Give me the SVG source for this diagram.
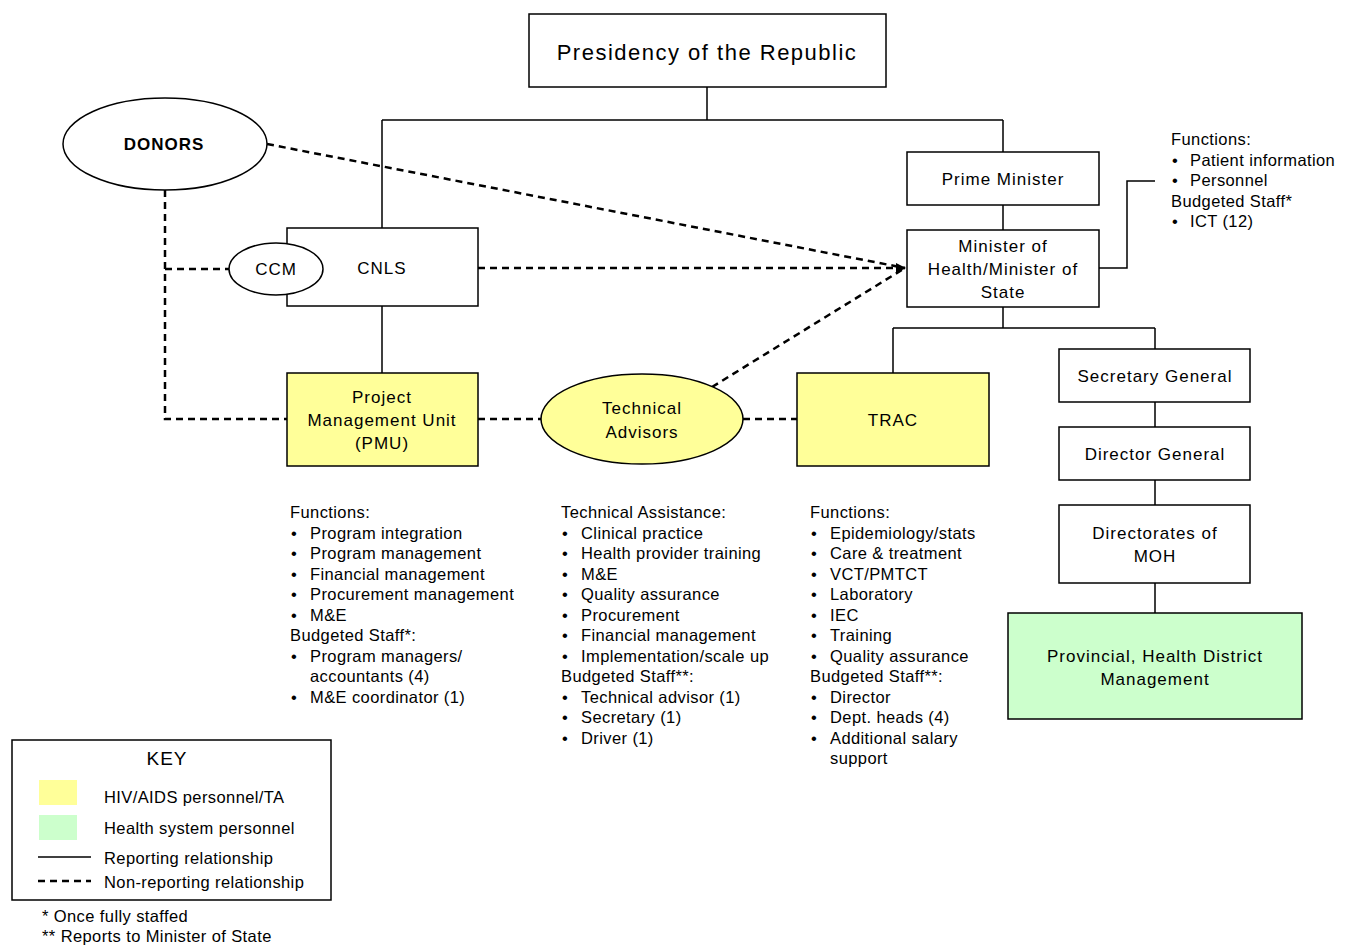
<svg xmlns="http://www.w3.org/2000/svg" width="1348" height="945" viewBox="0 0 1348 945">
<defs>
<style>
.box{fill:#fff;stroke:#000;stroke-width:1.5}
.yel{fill:#ffff99;stroke:#000;stroke-width:1.5}
.grn{fill:#ccffcc;stroke:#000;stroke-width:1.5}
.ln{fill:none;stroke:#000;stroke-width:1.5}
.dash{fill:none;stroke:#000;stroke-width:2.5;stroke-dasharray:7,5}
.lbl{font-family:"Liberation Sans",Arial,sans-serif;font-size:17px;letter-spacing:1px;text-anchor:middle;fill:#000}
.lst{font-family:"Liberation Sans",Arial,sans-serif;font-size:16.5px;letter-spacing:0.4px;fill:#000}
</style>
<marker id="arr" viewBox="0 0 10 10" refX="9" refY="5" markerWidth="4" markerHeight="4" orient="auto">
<path d="M0,0 L10,5 L0,10 z" fill="#000"/>
</marker>
</defs>
<rect width="1348" height="945" fill="#fff"/>

<g id="connectors">
<path class="ln" d="M707,87 V120 M382,120 H1003 M382,120 V228 M1003,120 V152 M1003,205 V230 M382,306 V373"/>
<path class="ln" d="M1099,268 H1127 V181 H1155"/>
<path class="ln" d="M1003,307 V328 M893,328 H1155 M893,328 V373 M1155,328 V349 M1155,402 V427 M1155,480 V505 M1155,583 V613"/>
<path class="dash" d="M165,190 V419 H287 M165,269 H229"/>
<path class="dash" d="M267,144 L905,268"/>
<path class="dash" d="M478,268 L905,268" marker-end="url(#arr)"/>
<path class="dash" d="M712,387 L905,268"/>
<path class="dash" d="M478,419 H541 M743,419 H797"/>
</g>

<g id="presidency">
<rect class="box" x="529" y="14" width="357" height="73"/>
<text class="lbl" x="707" y="60" style="font-size:22px;letter-spacing:1.5px">Presidency of the Republic</text>
</g>

<g id="donors">
<ellipse class="box" cx="165" cy="144" rx="102" ry="46"/>
<text class="lbl" x="164" y="150" style="font-weight:bold">DONORS</text>
</g>

<g id="cnls">
<rect class="box" x="287" y="228" width="191" height="78"/>
<text class="lbl" x="382" y="274">CNLS</text>
</g>

<g id="ccm">
<ellipse class="box" cx="276" cy="269" rx="47" ry="26"/>
<text class="lbl" x="276" y="275">CCM</text>
</g>

<g id="prime-minister">
<rect class="box" x="907" y="152" width="192" height="53"/>
<text class="lbl" x="1003" y="185">Prime Minister</text>
</g>

<g id="minister-health">
<rect class="box" x="907" y="230" width="192" height="77"/>
<text class="lbl" x="1003" y="252">Minister of</text>
<text class="lbl" x="1003" y="275">Health/Minister of</text>
<text class="lbl" x="1003" y="298">State</text>
</g>

<g id="minister-functions" class="lst">
<text x="1171" y="145">Functions:</text>
<text y="166"><tspan x="1172">•</tspan><tspan x="1190">Patient information</tspan></text>
<text y="186"><tspan x="1172">•</tspan><tspan x="1190">Personnel</tspan></text>
<text x="1171" y="207">Budgeted Staff*</text>
<text y="227"><tspan x="1172">•</tspan><tspan x="1190">ICT (12)</tspan></text>
</g>

<g id="pmu">
<rect class="yel" x="287" y="373" width="191" height="93"/>
<text class="lbl" x="382" y="403">Project</text>
<text class="lbl" x="382" y="426">Management Unit</text>
<text class="lbl" x="382" y="449">(PMU)</text>
</g>

<g id="technical-advisors">
<ellipse class="yel" cx="642" cy="419" rx="101" ry="45"/>
<text class="lbl" x="642" y="414">Technical</text>
<text class="lbl" x="642" y="438">Advisors</text>
</g>

<g id="trac">
<rect class="yel" x="797" y="373" width="192" height="93"/>
<text class="lbl" x="893" y="426">TRAC</text>
</g>

<g id="secretary-general">
<rect class="box" x="1059" y="349" width="191" height="53"/>
<text class="lbl" x="1155" y="382">Secretary General</text>
</g>

<g id="director-general">
<rect class="box" x="1059" y="427" width="191" height="53"/>
<text class="lbl" x="1155" y="460">Director General</text>
</g>

<g id="directorates">
<rect class="box" x="1059" y="505" width="191" height="78"/>
<text class="lbl" x="1155" y="539">Directorates of</text>
<text class="lbl" x="1155" y="562">MOH</text>
</g>

<g id="provincial">
<rect class="grn" x="1008" y="613" width="294" height="106"/>
<text class="lbl" x="1155" y="662">Provincial, Health District</text>
<text class="lbl" x="1155" y="685">Management</text>
</g>

<g id="pmu-functions" class="lst">
<text x="290" y="518">Functions:</text>
<text y="539"><tspan x="291">•</tspan><tspan x="310">Program integration</tspan></text>
<text y="559"><tspan x="291">•</tspan><tspan x="310">Program management</tspan></text>
<text y="580"><tspan x="291">•</tspan><tspan x="310">Financial management</tspan></text>
<text y="600"><tspan x="291">•</tspan><tspan x="310">Procurement management</tspan></text>
<text y="621"><tspan x="291">•</tspan><tspan x="310">M&amp;E</tspan></text>
<text x="290" y="641">Budgeted Staff*:</text>
<text y="662"><tspan x="291">•</tspan><tspan x="310">Program managers/</tspan></text>
<text x="310" y="682">accountants (4)</text>
<text y="703"><tspan x="291">•</tspan><tspan x="310">M&amp;E coordinator (1)</tspan></text>
</g>

<g id="ta-functions" class="lst">
<text x="561" y="518">Technical Assistance:</text>
<text y="539"><tspan x="562">•</tspan><tspan x="581">Clinical practice</tspan></text>
<text y="559"><tspan x="562">•</tspan><tspan x="581">Health provider training</tspan></text>
<text y="580"><tspan x="562">•</tspan><tspan x="581">M&amp;E</tspan></text>
<text y="600"><tspan x="562">•</tspan><tspan x="581">Quality assurance</tspan></text>
<text y="621"><tspan x="562">•</tspan><tspan x="581">Procurement</tspan></text>
<text y="641"><tspan x="562">•</tspan><tspan x="581">Financial management</tspan></text>
<text y="662"><tspan x="562">•</tspan><tspan x="581">Implementation/scale up</tspan></text>
<text x="561" y="682">Budgeted Staff**:</text>
<text y="703"><tspan x="562">•</tspan><tspan x="581">Technical advisor (1)</tspan></text>
<text y="723"><tspan x="562">•</tspan><tspan x="581">Secretary (1)</tspan></text>
<text y="744"><tspan x="562">•</tspan><tspan x="581">Driver (1)</tspan></text>
</g>

<g id="trac-functions" class="lst">
<text x="810" y="518">Functions:</text>
<text y="539"><tspan x="811">•</tspan><tspan x="830">Epidemiology/stats</tspan></text>
<text y="559"><tspan x="811">•</tspan><tspan x="830">Care &amp; treatment</tspan></text>
<text y="580"><tspan x="811">•</tspan><tspan x="830">VCT/PMTCT</tspan></text>
<text y="600"><tspan x="811">•</tspan><tspan x="830">Laboratory</tspan></text>
<text y="621"><tspan x="811">•</tspan><tspan x="830">IEC</tspan></text>
<text y="641"><tspan x="811">•</tspan><tspan x="830">Training</tspan></text>
<text y="662"><tspan x="811">•</tspan><tspan x="830">Quality assurance</tspan></text>
<text x="810" y="682">Budgeted Staff**:</text>
<text y="703"><tspan x="811">•</tspan><tspan x="830">Director</tspan></text>
<text y="723"><tspan x="811">•</tspan><tspan x="830">Dept. heads (4)</tspan></text>
<text y="744"><tspan x="811">•</tspan><tspan x="830">Additional salary</tspan></text>
<text x="830" y="764">support</text>
</g>

<g id="key">
<rect class="box" x="12" y="740" width="319" height="160"/>
<text class="lbl" x="167" y="765" style="font-size:19px">KEY</text>
<rect x="39" y="780" width="38" height="25" fill="#ffff99"/>
<rect x="39" y="815" width="38" height="25" fill="#ccffcc"/>
<text class="lst" x="104" y="803">HIV/AIDS personnel/TA</text>
<text class="lst" x="104" y="834">Health system personnel</text>
<line class="ln" x1="38" y1="857" x2="91" y2="857"/>
<text class="lst" x="104" y="864">Reporting relationship</text>
<line class="dash" x1="38" y1="881" x2="91" y2="881"/>
<text class="lst" x="104" y="888">Non-reporting relationship</text>
</g>

<g id="footnotes" class="lst">
<text x="42" y="922">* Once fully staffed</text>
<text x="42" y="942">** Reports to Minister of State</text>
</g>
</svg>
